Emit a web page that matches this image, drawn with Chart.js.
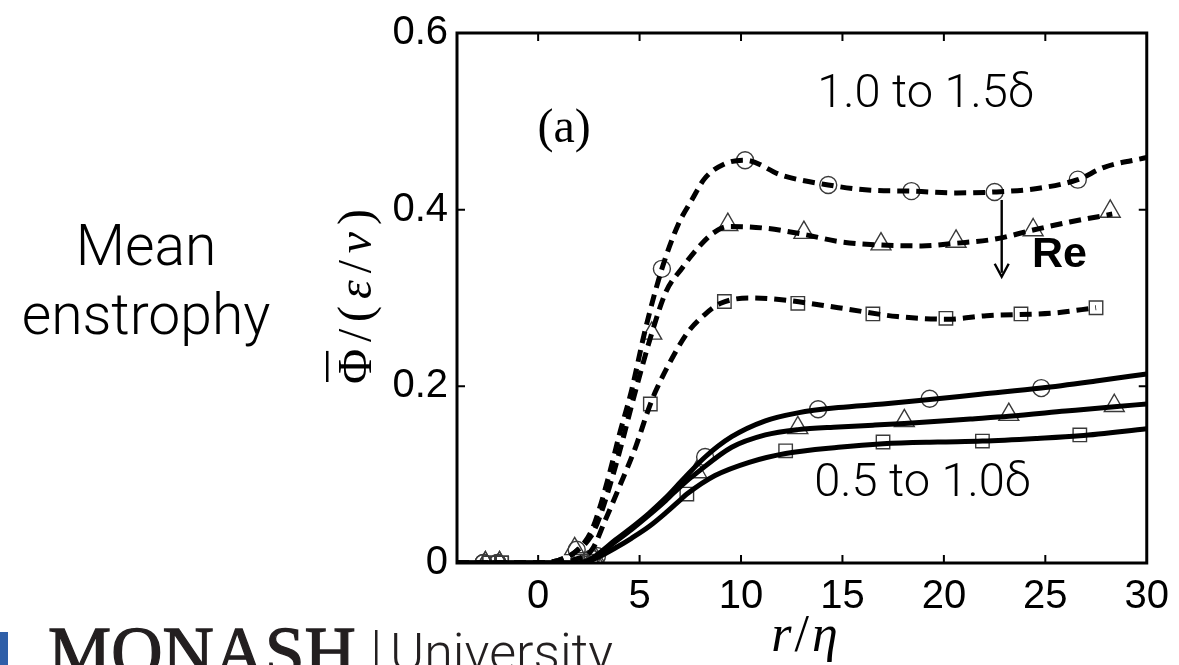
<!DOCTYPE html>
<html><head><meta charset="utf-8">
<script src="https://cdn.jsdelivr.net/npm/chart.js@4.4.1/dist/chart.umd.min.js"></script>
<style>html,body{margin:0;padding:0;background:#fff;}canvas{display:block;}</style>
</head><body>
<canvas id="c" width="1179" height="665"></canvas>
<script>
// ---- tick definitions ----
const xTickVals = [0, 5, 10, 15, 20, 25, 30];
const yTickVals = [0, 0.2, 0.4, 0.6];
const yTickLabels = ['0', '0.2', '0.4', '0.6'];

// ---- 1.0 to 1.5 delta (dashed) ----
const dashCircX = [-4, -2, 0, 1, 1.8, 2.6, 3.0, 3.5, 4.0, 4.6, 5.3, 6.1, 6.9, 7.6, 8.2, 9.2, 10.2, 12.0, 14.3, 16.4, 18.4, 20.5, 22.5, 24.6, 26.6, 27.9, 30];
const dashCircY = [0, 0, 0, 0.003, 0.012, 0.035, 0.06, 0.1, 0.145, 0.195, 0.266, 0.333, 0.383, 0.412, 0.435, 0.452, 0.456, 0.439, 0.428, 0.422, 0.421, 0.419, 0.420, 0.424, 0.434, 0.448, 0.459];
const dashCircMkX = [-2.7, -2.0, 1.9, 2.6, 6.1, 10.2, 14.3, 18.4, 22.5, 26.6];
const dashCircMkY = [0, 0, 0.015, 0.005, 0.333, 0.456, 0.428, 0.421, 0.420, 0.434];

const dashTriX = [-4, -2, 0, 1, 1.8, 2.6, 3.0, 3.5, 4.0, 4.8, 5.6, 6.3, 7.1, 7.7, 8.6, 9.4, 11.2, 13.1, 14.8, 16.9, 18.9, 20.6, 22.6, 24.4, 26.2, 28.3];
const dashTriY = [0, 0, 0, 0.003, 0.012, 0.03, 0.05, 0.085, 0.125, 0.195, 0.26, 0.307, 0.334, 0.352, 0.373, 0.381, 0.379, 0.372, 0.364, 0.36, 0.359, 0.362, 0.367, 0.377, 0.386, 0.395];
const dashTriMkX = [-2.6, -1.9, 1.8, 2.7, 5.6, 9.35, 13.1, 16.9, 20.6, 24.4, 28.2];
const dashTriMkY = [0, 0, 0.016, 0.006, 0.26, 0.383, 0.374, 0.361, 0.364, 0.377, 0.398];

const dashSqX = [-4, -2, 0, 1, 1.8, 2.65, 3.3, 4.0, 4.8, 5.5, 5.8, 6.8, 7.4, 8.2, 9.0, 10.4, 12.0, 14.8, 17.7, 20.2, 22.1, 25.4, 27.5];
const dashSqY = [0, 0, 0, 0, 0.004, 0.015, 0.048, 0.086, 0.131, 0.178, 0.195, 0.24, 0.262, 0.281, 0.294, 0.300, 0.298, 0.289, 0.279, 0.276, 0.28, 0.283, 0.289];
const dashSqMkX = [-2.4, -1.8, 2.1, 2.6, 5.53, 9.18, 12.8, 16.5, 20.1, 23.8, 27.5];
const dashSqMkY = [0, 0, 0.004, 0, 0.18, 0.296, 0.294, 0.282, 0.277, 0.282, 0.289];

// ---- 0.5 to 1.0 delta (solid) ----
const solCircX = [-4, 0, 1, 2, 2.5, 3.0, 3.8, 4.6, 5.45, 6.3, 7.08, 8.23, 9.54, 11.2, 12.8, 14.8, 17, 19.3, 21.8, 24.8, 27.5, 30];
const solCircY = [0, 0, 0, 0, 0.003, 0.011, 0.026, 0.04, 0.056, 0.074, 0.093, 0.12, 0.143, 0.161, 0.17, 0.176, 0.18, 0.185, 0.191, 0.198, 0.206, 0.214];
const solCircMkX = [-2.7, -2.0, 2.9, 8.23, 13.8, 19.3, 24.8];
const solCircMkY = [0, 0, 0.008, 0.12, 0.174, 0.186, 0.198];

const solTriX = [-4, 0, 1, 2, 2.5, 3.0, 3.8, 4.6, 5.45, 6.3, 7.08, 7.82, 9.54, 11.2, 12.8, 14.8, 16.5, 18.05, 21.3, 23.2, 26, 28.4, 30];
const solTriY = [0, 0, 0, 0, 0.003, 0.01, 0.024, 0.038, 0.054, 0.071, 0.088, 0.102, 0.131, 0.145, 0.151, 0.154, 0.156, 0.158, 0.163, 0.166, 0.172, 0.177, 0.180];
const solTriMkX = [-2.6, -1.9, 2.8, 7.82, 12.8, 18.05, 23.2, 28.4];
const solTriMkY = [0, 0, 0.006, 0.103, 0.153, 0.161, 0.168, 0.178];

const solSqX = [-4, 0, 1, 2, 2.5, 3.0, 3.8, 4.6, 5.45, 6.3, 7.08, 7.33, 8.72, 10.4, 12.2, 14.8, 17.0, 19.7, 21.9, 24.6, 26.7, 30];
const solSqY = [0, 0, 0, 0, 0.002, 0.007, 0.017, 0.028, 0.041, 0.057, 0.073, 0.078, 0.099, 0.114, 0.124, 0.131, 0.135, 0.137, 0.138, 0.141, 0.144, 0.152];
const solSqMkX = [-2.4, -1.8, 2.6, 7.33, 12.2, 17.0, 21.9, 26.7];
const solSqMkY = [0, 0, 0.002, 0.078, 0.127, 0.137, 0.138, 0.145];

// ---- annotation anchors (data coordinates) ----
const notes = {
  panel: {x: 1.28, y: 0.491, text: '(a)'},
  upper: {x: 19.1, y: 0.529, text: '1.0 to 1.5\u03b4'},
  lower: {x: 18.95, y: 0.089, text: '0.5 to 1.0\u03b4'},
  re: {x: 25.7, y: 0.348, text: 'Re'},
  arrow: {x: 22.85, y0: 0.411, y1: 0.324}
};

const pts = (xs, ys) => xs.map((x, i) => ({x: x, y: ys[i]}));
function lineDs(xs, ys, dashed) {
  return {data: pts(xs, ys), showLine: true, pointRadius: 0, borderColor: '#000', borderWidth: 5,
    borderDash: dashed ? [12, 7] : [], cubicInterpolationMode: 'monotone', fill: false, borderCapStyle: 'butt'};
}
function markDs(xs, ys, style, r) {
  return {data: pts(xs, ys), showLine: false, pointStyle: style, pointRadius: r, pointHoverRadius: r,
    borderColor: '#3a3a3a', pointBorderWidth: 1.4, backgroundColor: 'rgba(0,0,0,0)'};
}

const datasets = [
  lineDs(dashCircX, dashCircY, true), lineDs(dashTriX, dashTriY, true), lineDs(dashSqX, dashSqY, true),
  lineDs(solCircX, solCircY, false), lineDs(solTriX, solTriY, false), lineDs(solSqX, solSqY, false),
  markDs(dashCircMkX, dashCircMkY, 'circle', 8.5), markDs(dashTriMkX, dashTriMkY, 'triangle', 11.5), markDs(dashSqMkX, dashSqMkY, 'rect', 9.5),
  markDs(solCircMkX, solCircMkY, 'circle', 8.5), markDs(solTriMkX, solTriMkY, 'triangle', 11.5), markDs(solSqMkX, solSqMkY, 'rect', 9.5)
];

const SANS = "'Liberation Sans', Arial, sans-serif";
const LIGHT = "Roboto, 'Open Sans', 'Liberation Sans', sans-serif";
const SERIF = "'Liberation Serif', 'DejaVu Serif', serif";

const framePlugin = {
  id: 'frame',
  afterDraw(chart) {
    const c = chart.ctx, a = chart.chartArea;
    const X = v => chart.scales.x.getPixelForValue(v);
    const Y = v => chart.scales.y.getPixelForValue(v);
    c.save();
    // box
    c.strokeStyle = '#000'; c.lineWidth = 3;
    c.strokeRect(a.left, a.top, a.right - a.left, a.bottom - a.top);
    // inner ticks
    c.lineWidth = 2;
    c.beginPath();
    xTickVals.forEach(v => { const px = X(v); if (px < a.right - 2) { c.moveTo(px, a.bottom); c.lineTo(px, a.bottom - 8); c.moveTo(px, a.top); c.lineTo(px, a.top + 8); } });
    yTickVals.forEach(v => { const py = Y(v); if (py > a.top + 2 && py < a.bottom - 2) { c.moveTo(a.left, py); c.lineTo(a.left + 8, py); c.moveTo(a.right, py); c.lineTo(a.right - 8, py); } });
    c.stroke();

    // annotations
    c.fillStyle = '#000'; c.textAlign = 'center'; c.textBaseline = 'middle';
    c.font = '48px ' + SERIF;
    c.fillText(notes.panel.text, X(notes.panel.x), Y(notes.panel.y));
    c.font = '300 47px ' + LIGHT;
    c.fillText(notes.upper.text, X(notes.upper.x), Y(notes.upper.y));
    c.fillText(notes.lower.text, X(notes.lower.x), Y(notes.lower.y));
    c.font = 'bold 43px ' + SANS;
    c.fillText(notes.re.text, X(notes.re.x), Y(notes.re.y));
    // arrow
    const ax = X(notes.arrow.x), ay0 = Y(notes.arrow.y0), ay1 = Y(notes.arrow.y1);
    c.lineWidth = 2.4;
    c.beginPath(); c.moveTo(ax, ay0); c.lineTo(ax, ay1 - 4); c.stroke();
    c.beginPath(); c.moveTo(ax - 7, ay1 - 13); c.lineTo(ax, ay1); c.lineTo(ax + 7, ay1 - 13); c.stroke();

    // x axis title r/eta
    c.textAlign = 'left'; c.textBaseline = 'alphabetic';
    {
      const parts = [['r', 'italic 52px '], ['/', '52px '], ['\u03b7', 'italic 52px ']];
      let w = 0; parts.forEach(p => { c.font = p[1] + SERIF; w += c.measureText(p[0]).width + 3; });
      let x0 = 806 - w / 2;
      parts.forEach(p => { c.font = p[1] + SERIF; c.fillText(p[0], x0, 651); x0 += c.measureText(p[0]).width + 3; });
    }
    // y axis title Phi-bar/(eps/nu)
    {
      c.save();
      c.translate(356, 297); c.rotate(-Math.PI / 2);
      const parts = [['\u03a6', '48px '], ['/', '48px '], ['(', '48px '], ['\u03b5', 'italic 48px '], ['/', '48px '], ['\u03bd', 'italic 48px '], [')', '48px ']];
      let w = 0; parts.forEach(p => { c.font = p[1] + SERIF; w += c.measureText(p[0]).width; });
      const gap = (175 - w) / (parts.length - 1);
      let x0 = -87;
      parts.forEach((p, i) => {
        c.font = p[1] + SERIF; const pw = c.measureText(p[0]).width;
        c.fillText(p[0], x0, 15);
        if (i === 0) { c.fillRect(x0 + 2, -30, pw - 4, 2.5); }
        x0 += pw + gap;
      });
      c.restore();
    }
    // side label
    c.textAlign = 'center';
    c.font = '300 57px ' + LIGHT;
    c.fillText('Mean', 146, 265);
    c.fillText('enstrophy', 146, 334);

    // Monash logo text at bottom
    c.fillStyle = '#2f5fa8'; c.fillRect(0, 632, 8, 33);
    c.fillStyle = '#231f20'; c.strokeStyle = '#231f20'; c.lineWidth = 1.3;
    c.textAlign = 'left';
    c.font = '71px ' + SERIF;
    c.fillText('MONASH', 48, 676);
    c.strokeText('MONASH', 48, 676);
    c.fillRect(375, 630, 2.5, 35);
    c.font = '300 52px ' + LIGHT;
    c.fillText('University', 390, 670);
    c.restore();
  }
};

new Chart(document.getElementById('c').getContext('2d'), {
  type: 'scatter',
  data: {datasets: datasets},
  options: {
    responsive: false, animation: false, devicePixelRatio: 1,
    layout: {padding: {left: 0, right: 29, top: 30, bottom: 0}},
    plugins: {legend: {display: false}, tooltip: {enabled: false}},
    scales: {
      x: {type: 'linear', min: -4, max: 30,
        grid: {display: false, drawTicks: false}, border: {display: false},
        ticks: {font: {family: SANS, size: 40}, color: '#000', padding: 10, maxRotation: 0, autoSkip: false, callback: v => String(v)},
        afterBuildTicks: s => { s.ticks = xTickVals.map(v => ({value: v})); },
        afterFit: s => { s.height = 102; }
      },
      y: {type: 'linear', min: 0, max: 0.6,
        grid: {display: false, drawTicks: false}, border: {display: false},
        ticks: {font: {family: SANS, size: 40}, color: '#000', padding: 9, autoSkip: false, callback: v => yTickLabels[yTickVals.indexOf(v)]},
        afterBuildTicks: s => { s.ticks = yTickVals.map(v => ({value: v})); },
        afterFit: s => { s.width = 457; }
      }
    }
  },
  plugins: [framePlugin]
});
</script>
</body></html>
